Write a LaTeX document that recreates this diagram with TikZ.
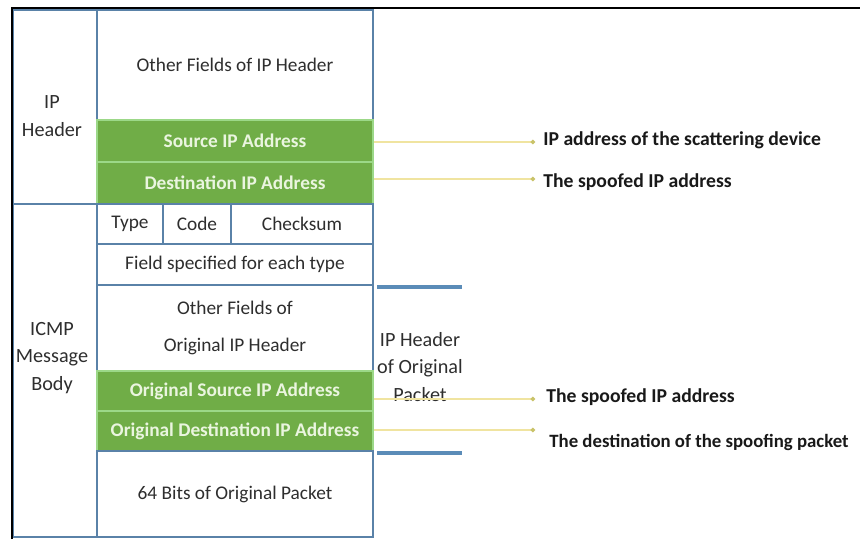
\documentclass[tikz,border=0pt]{standalone}
\usepackage{fontspec}
\setmainfont{Carlito}
\usetikzlibrary{arrows.meta}

\definecolor{fieldblue}{HTML}{5A82A8}
\definecolor{barblue}{HTML}{5B8CB8}
\definecolor{fieldgreen}{HTML}{70AD47}
\definecolor{greentext}{HTML}{EAF5DF}
\definecolor{leadyellow}{HTML}{F0E4A0}
\definecolor{dotyellow}{HTML}{C9C36A}
\definecolor{labelgray}{HTML}{2E2E2E}

\tikzset{
  field/.style={draw=fieldblue, line width=1pt, fill=white, inner sep=0pt,
    align=center, font=\fontsize{11}{21}\selectfont, text=labelgray},
  greenfield/.style={field, draw=green!20!fieldgreen!60!white, fill=fieldgreen,
    text=greentext, font=\fontsize{11}{13}\selectfont\bfseries},
  sidelabel/.style={align=center, font=\fontsize{11.5}{15.5}\selectfont, text=labelgray},
  note/.style={anchor=west, inner sep=0pt, font=\fontsize{11.2}{13}\selectfont\bfseries, text=black!90},
  lead/.style={leadyellow, line width=0.8pt, -{Circle[length=2.5pt,color=dotyellow]}},
  bracket/.style={barblue, line width=2.2pt}
}

\begin{document}
\begin{tikzpicture}[x=0.02cm, y=-0.02cm]
  \useasboundingbox (0,0) rectangle (860,539);

  % left column
  \node[field, minimum width=1.68cm, minimum height=3.88cm] (iphdr) at (55,107) {};
  \node[field, minimum width=1.68cm, minimum height=6.66cm] (icmp) at (55,370.5) {};
  \node[sidelabel] (iplbl) at (52,116) {IP\\Header};
  \node[sidelabel] (icmplbl) at (52,358) {ICMP\\Message\\Body};

  % outer IP header
  \node[field, minimum width=5.52cm, minimum height=2.2cm] (other) at (235,65) {Other Fields of IP Header};
  \node[greenfield, minimum width=5.52cm, minimum height=0.84cm] (srcip) at (235,141) {Source IP Address};
  \node[greenfield, minimum width=5.52cm, minimum height=0.84cm] (dstip) at (235,183) {Destination IP Address};

  % ICMP message
  \node[field, minimum width=1.32cm, minimum height=0.8cm] (type) at (130,224) {Type};
  \node[field, minimum width=1.36cm, minimum height=0.8cm] (code) at (197,224) {Code};
  \node[field, minimum width=2.84cm, minimum height=0.8cm] (cksum) at (302,224) {Checksum};
  \node[field, minimum width=5.52cm, minimum height=0.82cm] (spec) at (235,264.5) {Field specified for each type};
  \node[field, minimum width=5.52cm, minimum height=1.72cm] (oother) at (235,328) {Other Fields of\\Original IP Header};
  \node[greenfield, minimum width=5.52cm, minimum height=0.8cm] (osrc) at (235,391) {Original Source IP Address};
  \node[greenfield, minimum width=5.52cm, minimum height=0.8cm] (odst) at (235,431) {Original Destination IP Address};
  \node[field, minimum width=5.52cm, minimum height=1.72cm] (bits) at (235,494) {64 Bits of Original Packet};

  % original header bracket
  \coordinate (btop) at (377,287);
  \coordinate (bbot) at (377,453);
  \draw[bracket] (btop) -- ++(85,0);
  \draw[bracket] (bbot) -- ++(85,0);
  \node[sidelabel] (orighdr) at (420,367) {IP Header\\of Original\\Packet};

  % explanations
  \coordinate (e1) at (535,142);
  \coordinate (e2) at (535,179);
  \coordinate (e3) at (535,399);
  \coordinate (e4) at (535,430);
  \node[note] (n1) at (543,140) {IP address of the scattering device};
  \node[note] (n2) at (543,182) {The spoofed IP address};
  \node[note] (n3) at (546,397) {The spoofed IP address};
  \node[note, font=\fontsize{10.7}{13}\selectfont\bfseries] (n4) at (549,442) {The destination of the spoofing packet};
  \draw[lead] (srcip.east |- e1) -- (e1);
  \draw[lead] (dstip.east |- e2) -- (e2);
  \draw[lead] (osrc.east |- e3) -- (e3);
  \draw[lead] (odst.east |- e4) -- (e4);

  % frame
  \draw[black, line width=1.2pt] (12,539) -- (12,8) -- (860,8);
\end{tikzpicture}
\end{document}
